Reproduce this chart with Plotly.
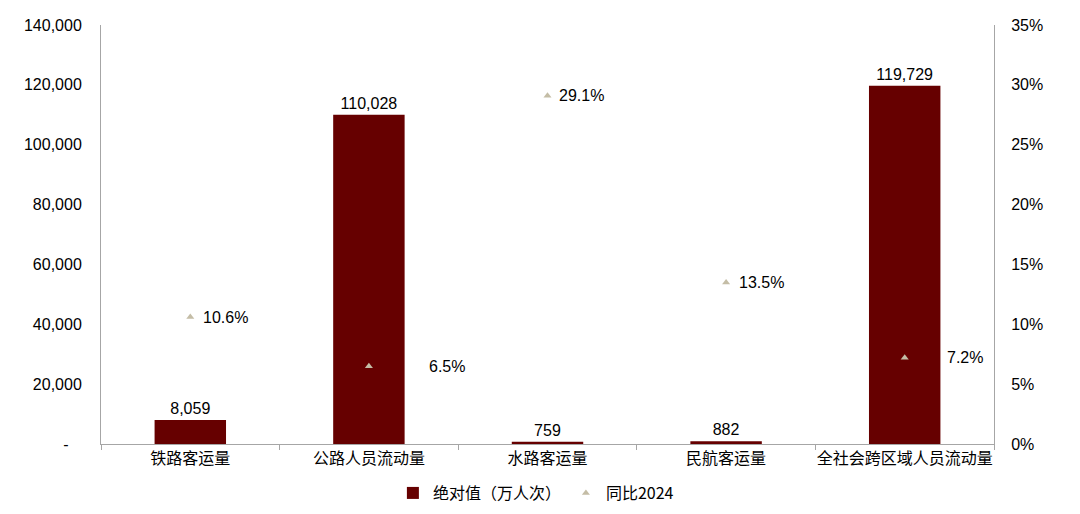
import plotly.graph_objects as go

categories = ["铁路客运量", "公路人员流动量", "水路客运量", "民航客运量", "全社会跨区域人员流动量"]
absolute_values = [8059, 110028, 759, 882, 119729]
yoy_pct = [10.6, 6.5, 29.1, 13.5, 7.2]
left_ticks = [0, 20000, 40000, 60000, 80000, 100000, 120000, 140000]
left_tick_text = ["-\u00a0\u00a0\u00a0", "20,000", "40,000", "60,000", "80,000", "100,000", "120,000", "140,000"]
right_ticks = [0, 5, 10, 15, 20, 25, 30, 35]
right_tick_text = [f"{v}%" for v in right_ticks]

label_xshift = [35, 78, 34, 35, 60]

FONT = "Liberation Sans, Arial, Noto Sans CJK SC, sans-serif"
BAR = "#660000"
TRI = "#c4bda6"

fig = go.Figure()
fig.add_trace(go.Bar(
    x=categories, y=absolute_values, name="绝对值（万人次）",
    marker=dict(color=BAR, line=dict(width=0)), width=0.4,
    text=[f"{v:,}" for v in absolute_values], textposition="outside",
    textfont=dict(size=16, color="#000000", family=FONT), cliponaxis=False,
))
fig.add_trace(go.Scatter(
    x=categories, y=yoy_pct, name="同比2024", yaxis="y2", mode="markers",
    marker=dict(symbol="triangle-up", size=7, color=TRI),
))
for c, p, dx in zip(categories, yoy_pct, label_xshift):
    fig.add_annotation(x=c, y=p, yref="y2", text=f"{p:.1f}%", showarrow=False,
                       xshift=dx, font=dict(size=16, color="#000000", family=FONT))

fig.update_layout(
    width=1080, height=514,
    margin=dict(l=93, r=94, t=17, b=78, autoexpand=False),
    plot_bgcolor="white", paper_bgcolor="white",
    font=dict(family=FONT, size=16, color="#000000"),
    showlegend=True,
    legend=dict(orientation="h", x=0.487, xanchor="center", y=-0.117, yanchor="middle",
                font=dict(size=16, family="Noto Sans CJK SC, Liberation Sans, sans-serif"),
                itemwidth=30, tracegroupgap=0),
    xaxis=dict(showline=True, linecolor="#a6a6a6", linewidth=1, ticks="outside",
               tickson="boundaries", ticklen=5, tickcolor="#a6a6a6", automargin=False,
               tickangle=0, tickfont=dict(size=16, family="Noto Sans CJK SC, sans-serif")),
    yaxis=dict(range=[0, 140000], tickvals=left_ticks, ticktext=left_tick_text,
               showline=True, linecolor="#a6a6a6", showgrid=False, zeroline=False,
               ticks="", ticklabelstandoff=15, automargin=False, tickfont=dict(size=16)),
    yaxis2=dict(range=[0, 35], tickvals=right_ticks, ticktext=right_tick_text, overlaying="y",
                side="right", showline=True, linecolor="#a6a6a6", showgrid=False,
                zeroline=False, ticks="", ticklabelstandoff=13, automargin=False,
                tickfont=dict(size=16)),
)
fig.write_html("out.html")
